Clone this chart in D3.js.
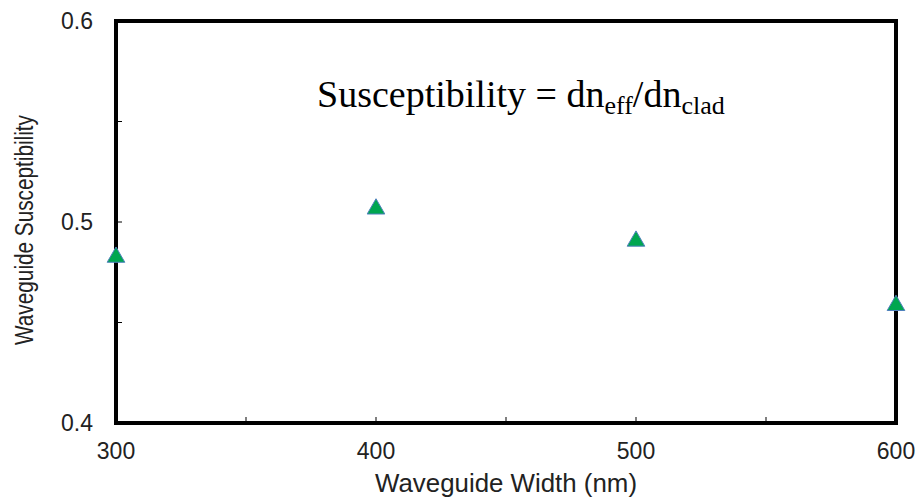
<!DOCTYPE html>
<html>
<head>
<meta charset="utf-8">
<script src="https://cdn.jsdelivr.net/npm/d3@7"></script>
<style>
  body { margin: 0; background: #fff; }
  text { font-family: "Liberation Sans", Arial, sans-serif; fill: #222; }
</style>
</head>
<body>
<svg id="chart" width="920" height="500"></svg>
<script>
// data
const widths = [300, 400, 500, 600];
const susceptibility = [0.483, 0.507, 0.491, 0.459];
const xTicks = [300, 400, 500, 600];
const yTicks = [0.4, 0.5, 0.6];
const xMinor = [350, 450, 550];
const yMinor = [0.45, 0.55];

const svg = d3.select("#chart");
const margin = {left: 116, right: 24, top: 21, bottom: 77};
const W = 920, H = 500;

let x = d3.scaleLinear().domain([300, 600]).range([margin.left, W - margin.right]);
let y = d3.scaleLinear().domain([0.4, 0.6]).range([H - margin.bottom, margin.top]);

// frame
svg.append("rect")
  .attr("x", x(300)).attr("y", y(0.6))
  .attr("width", x(600) - x(300)).attr("height", y(0.4) - y(0.6))
  .attr("fill", "none").attr("stroke", "#000").attr("stroke-width", 4);

// inward ticks
svg.selectAll(".xt").data(xTicks.concat(xMinor)).enter().append("line")
  .attr("x1", d => x(d)).attr("x2", d => x(d))
  .attr("y1", y(0.4)).attr("y2", y(0.4) - 6)
  .attr("stroke", "#000").attr("stroke-width", 1);
svg.selectAll(".yt").data(yTicks.concat(yMinor)).enter().append("line")
  .attr("x1", x(300)).attr("x2", x(300) + 6)
  .attr("y1", d => y(d)).attr("y2", d => y(d))
  .attr("stroke", "#000").attr("stroke-width", 1);

// tick labels
svg.selectAll(".xl").data(xTicks).enter().append("text")
  .attr("x", d => x(d)).attr("y", y(0.4) + 36)
  .attr("text-anchor", "middle").attr("font-size", 23)
  .text(d => d);
svg.selectAll(".yl").data(yTicks).enter().append("text")
  .attr("x", x(300) - 23).attr("y", d => y(d) + 8)
  .attr("text-anchor", "end").attr("font-size", 23)
  .text(d => d3.format(".1f")(d));

// axis titles
svg.append("text")
  .attr("x", (x(300) + x(600)) / 2).attr("y", 492)
  .attr("text-anchor", "middle").attr("font-size", 25)
  .attr("textLength", 262).attr("lengthAdjust", "spacingAndGlyphs")
  .text("Waveguide Width (nm)");
svg.append("text")
  .attr("transform", "translate(33,230) rotate(-90)")
  .attr("text-anchor", "middle").attr("font-size", 26)
  .attr("textLength", 230).attr("lengthAdjust", "spacingAndGlyphs")
  .text("Waveguide Susceptibility");

// formula
let f = svg.append("text")
  .attr("x", 317).attr("y", 107)
  .style("font-family", "'Liberation Serif', 'Times New Roman', serif")
  .attr("font-size", 38).style("fill", "#000");
f.append("tspan").text("Susceptibility = dn");
f.append("tspan").attr("font-size", 26).attr("dy", 7).text("eff");
f.append("tspan").attr("dy", -7).text("/dn");
f.append("tspan").attr("font-size", 26).attr("dy", 7).text("clad");

// markers
const tri = d3.symbol().type(d3.symbolTriangle).size(135);
svg.selectAll(".pt").data(widths).enter().append("path")
  .attr("d", tri)
  .attr("transform", (d, i) => "translate(" + x(d) + "," + (y(susceptibility[i]) + 1) + ")")
  .attr("fill", "#00a650").attr("stroke", "#4f81bd").attr("stroke-width", 1);
</script>
</body>
</html>
